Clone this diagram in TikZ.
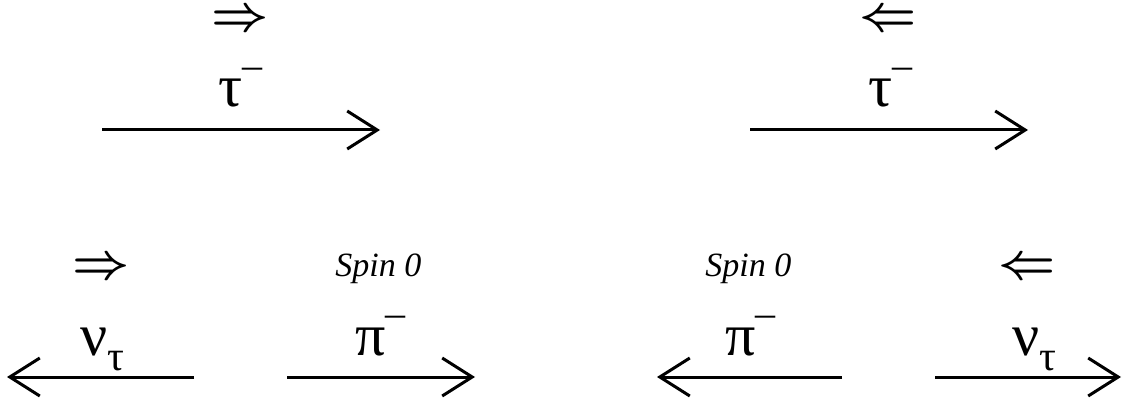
\documentclass[tikz,border=0pt]{standalone}
\usepackage{fontspec}
\setmainfont{Liberation Serif}
\usetikzlibrary{arrows.meta}
\newcommand{\chargeminus}{\raisebox{14pt}{\fontsize{20}{20}\selectfont –}}
\newcommand{\flavtau}{\raisebox{-7.5pt}{\fontsize{21}{21}\selectfont τ}}

\begin{document}
\begin{tikzpicture}[x=0.5pt,y=-0.5pt,
  momentum/.style={line width=1.5pt,-{Straight Barb[length=15pt,width=19pt,line width=1.5pt]}},
  particle/.style={inner sep=0pt,anchor=base west,font=\fontsize{30}{34}\selectfont},
  helicity/.style={inner sep=0pt,font=\fontsize{25}{28}\selectfont\boldmath},
  spinlabel/.style={inner sep=0pt,anchor=base west,font=\fontsize{17}{20}\selectfont\itshape}]
  \useasboundingbox (0,0) rectangle (1124,406);
  % tau before the decay: spin along / against the motion
  \node[helicity] (hTauL) at (240,21) {$\Rightarrow$};
  \node[helicity] (hTauR) at (888,21) {$\Leftarrow$};
  \node[particle] (tauL) at (218,107) {τ\chargeminus};
  \node[particle] (tauR) at (868,107) {τ\chargeminus};
  \coordinate (tauLa) at (102,130); \coordinate (tauLb) at (380,130);
  \coordinate (tauRa) at (750,130); \coordinate (tauRb) at (1028,130);
  \draw[momentum] (tauLa) -- (tauLb);
  \draw[momentum] (tauRa) -- (tauRb);
  % decay products
  \node[helicity] (hNuL) at (101,269) {$\Rightarrow$};
  \node[helicity] (hNuR) at (1027,269) {$\Leftarrow$};
  \node[spinlabel] (spinL) at (335,277) {Spin 0};
  \node[spinlabel] (spinR) at (705,277) {Spin 0};
  \node[particle] (nuL) at (80,355) {ν\flavtau};
  \node[particle] (piL) at (355,355) {π\chargeminus};
  \node[particle] (piR) at (725,355) {π\chargeminus};
  \node[particle] (nuR) at (1012,355) {ν\flavtau};
  \coordinate (nuLa) at (194,377);  \coordinate (nuLb) at (7,377);
  \coordinate (piLa) at (287,377);  \coordinate (piLb) at (475,377);
  \coordinate (piRa) at (842,377);  \coordinate (piRb) at (657,377);
  \coordinate (nuRa) at (935,377);  \coordinate (nuRb) at (1121,377);
  \draw[momentum] (nuLa) -- (nuLb);
  \draw[momentum] (piLa) -- (piLb);
  \draw[momentum] (piRa) -- (piRb);
  \draw[momentum] (nuRa) -- (nuRb);
\end{tikzpicture}
\end{document}
